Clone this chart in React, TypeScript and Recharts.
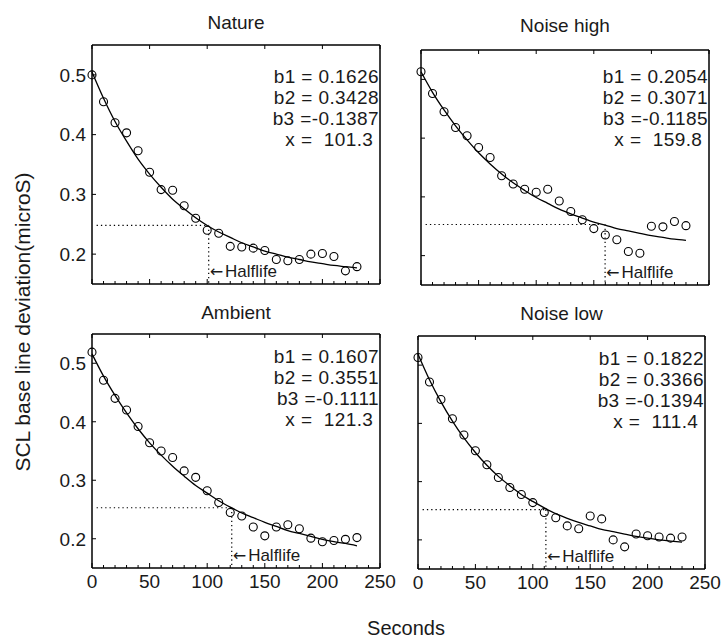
import React from 'react';
import { ComposedChart, Line, Scatter, XAxis, YAxis, ReferenceLine, ReferenceDot } from 'recharts';

// sample times (s)
const seconds = [0, 10, 20, 30, 40, 50, 60, 70, 80, 90, 100, 110, 120, 130, 140, 150, 160, 170, 180, 190, 200, 210, 220, 230];

const natureObs = [0.500, 0.455, 0.420, 0.403, 0.373, 0.337, 0.308, 0.307, 0.281, 0.260, 0.240, 0.235, 0.213, 0.212, 0.210, 0.206, 0.191, 0.189, 0.191, 0.200, 0.201, 0.196, 0.172, 0.179];
const natureFit = [0.505, 0.461, 0.422, 0.389, 0.359, 0.334, 0.312, 0.292, 0.276, 0.261, 0.248, 0.237, 0.228, 0.219, 0.212, 0.205, 0.200, 0.195, 0.191, 0.187, 0.184, 0.181, 0.179, 0.177];

const noiseHighObs = [0.513, 0.476, 0.445, 0.418, 0.404, 0.384, 0.367, 0.336, 0.322, 0.313, 0.308, 0.313, 0.293, 0.275, 0.261, 0.246, 0.235, 0.227, 0.207, 0.204, 0.250, 0.249, 0.258, 0.251];
const noiseHighFit = [0.513, 0.478, 0.448, 0.421, 0.397, 0.375, 0.356, 0.339, 0.324, 0.311, 0.299, 0.289, 0.279, 0.271, 0.264, 0.257, 0.252, 0.246, 0.242, 0.238, 0.234, 0.231, 0.228, 0.226];

const ambientObs = [0.519, 0.471, 0.440, 0.420, 0.392, 0.364, 0.350, 0.339, 0.316, 0.305, 0.282, 0.262, 0.245, 0.239, 0.220, 0.205, 0.220, 0.224, 0.217, 0.201, 0.195, 0.197, 0.199, 0.202];
const ambientFit = [0.516, 0.478, 0.445, 0.415, 0.388, 0.364, 0.343, 0.324, 0.307, 0.291, 0.278, 0.265, 0.254, 0.244, 0.236, 0.228, 0.221, 0.214, 0.209, 0.204, 0.199, 0.195, 0.192, 0.188];

const noiseLowObs = [0.513, 0.471, 0.441, 0.408, 0.380, 0.353, 0.329, 0.307, 0.290, 0.278, 0.264, 0.247, 0.238, 0.224, 0.219, 0.241, 0.236, 0.200, 0.188, 0.210, 0.207, 0.205, 0.203, 0.205];
const noiseLowFit = [0.519, 0.475, 0.437, 0.404, 0.375, 0.350, 0.328, 0.309, 0.293, 0.278, 0.266, 0.255, 0.245, 0.237, 0.230, 0.224, 0.218, 0.214, 0.210, 0.206, 0.203, 0.200, 0.198, 0.196];

// fit parameters as printed
const natureParams = ['b1 = 0.1626', 'b2 = 0.3428', 'b3 =-0.1387', 'x =  101.3 '];
const noiseHighParams = ['b1 = 0.2054', 'b2 = 0.3071', 'b3 =-0.1185', 'x =  159.8 '];
const ambientParams = ['b1 = 0.1607', 'b2 = 0.3551', 'b3 =-0.1111', 'x =  121.3 '];
const noiseLowParams = ['b1 = 0.1822', 'b2 = 0.3366', 'b3 =-0.1394', 'x =  111.4 '];

// halflife point [seconds, value]
const natureHalf = [101.3, 0.248];
const noiseHighHalf = [159.8, 0.253];
const ambientHalf = [121.3, 0.253];
const noiseLowHalf = [111.4, 0.252];

const xMinorTicks = [0, 10, 20, 30, 40, 50, 60, 70, 80, 90, 100, 110, 120, 130, 140, 150, 160, 170, 180, 190, 200, 210, 220, 230, 240, 250];
const xMajorTicks = [0, 50, 100, 150, 200, 250];
const yMajorTicks = [0.2, 0.3, 0.4, 0.5];
const yMinorTicks = [0.16, 0.18, 0.2, 0.22, 0.24, 0.26, 0.28, 0.3, 0.32, 0.34, 0.36, 0.38, 0.4, 0.42, 0.44, 0.46, 0.48, 0.5, 0.52, 0.54];

const FONT = '"Liberation Sans", Arial, Helvetica, sans-serif';
const INK = '#1a1a1a';
const W = 723;
const H = 639;

const BottomTick = (props: any) => {
  const { x, y, payload, showLabel } = props;
  const major = xMajorTicks.includes(payload.value);
  return (
    <g>
      <line x1={x} x2={x} y1={y} y2={y - (major ? 5 : 3)} stroke="#000" strokeWidth={1} />
      {showLabel && major && (
        <text x={x} y={y + 20} textAnchor="middle" fontFamily={FONT} fontSize={19} fill={INK}>
          {payload.value}
        </text>
      )}
    </g>
  );
};

const TopTick = (props: any) => {
  const { x, y, payload } = props;
  if (!xMajorTicks.includes(payload.value)) return <g />;
  return <line x1={x} x2={x} y1={y} y2={y + 4} stroke="#000" strokeWidth={1} />;
};

const LeftTick = (props: any) => {
  const { x, y, payload, showLabel } = props;
  return (
    <g>
      <line x1={x} x2={x + 4} y1={y} y2={y} stroke="#000" strokeWidth={1} />
      {showLabel && (
        <text x={x - 6} y={y} dy="0.36em" textAnchor="end" fontFamily={FONT} fontSize={19} fill={INK}>
          {payload.value.toFixed(1)}
        </text>
      )}
    </g>
  );
};

const RightTick = (props: any) => {
  const { x, y, payload } = props;
  const major = yMajorTicks.includes(payload.value);
  return <line x1={x} x2={x - (major ? 4 : 2)} y1={y} y2={y} stroke="#000" strokeWidth={1} />;
};

const HalfLabel = (props: any) => {
  const vb = props.viewBox || {};
  return (
    <text x={vb.x + 1} y={vb.y - 7} fontFamily={FONT} fontSize={17} fill={INK}>
      <tspan fontFamily='"DejaVu Sans"' fontSize={16}>←</tspan>
      <tspan dx={2}>Halflife</tspan>
    </text>
  );
};

type Panel = {
  title: string;
  obs: number[];
  fit: number[];
  params: string[];
  half: number[];
  box: { l: number; r: number; t: number; b: number };
  titleY: number;
  textY: number;
  showX: boolean;
  showY: boolean;
};

const panels: Panel[] = [
  { title: 'Nature', obs: natureObs, fit: natureFit, params: natureParams, half: natureHalf, box: { l: 92, r: 380, t: 45, b: 284 }, titleY: 22, textY: 76, showX: false, showY: true },
  { title: 'Noise high', obs: noiseHighObs, fit: noiseHighFit, params: noiseHighParams, half: noiseHighHalf, box: { l: 421, r: 709, t: 50, b: 285 }, titleY: 25, textY: 76, showX: false, showY: false },
  { title: 'Ambient', obs: ambientObs, fit: ambientFit, params: ambientParams, half: ambientHalf, box: { l: 92, r: 380, t: 334, b: 568 }, titleY: 312, textY: 356, showX: true, showY: true },
  { title: 'Noise low', obs: noiseLowObs, fit: noiseLowFit, params: noiseLowParams, half: noiseLowHalf, box: { l: 418, r: 705, t: 336, b: 569 }, titleY: 313, textY: 358, showX: true, showY: false },
];

const PanelChart = ({ p }: { p: Panel }) => {
  const rows = seconds.map((t, i) => ({ t, obs: p.obs[i], fit: p.fit[i] }));
  const axisLine = { stroke: '#000', strokeWidth: 1.5 };
  return (
    <div style={{ position: 'absolute', left: 0, top: 0 }}>
      <ComposedChart
        width={W}
        height={H}
        data={rows}
        margin={{ left: p.box.l - 1, right: W - p.box.r - 1, top: p.box.t - 1, bottom: H - p.box.b - 1 }}
      >
        <XAxis
          dataKey="t"
          type="number"
          domain={[0, 250]}
          ticks={xMinorTicks}
          interval={0}
          height={1}
          tickSize={0}
          tickMargin={0}
          tickLine={false}
          axisLine={axisLine}
          tick={(props: any) => <BottomTick {...props} showLabel={p.showX} />}
        />
        <XAxis
          xAxisId="top"
          orientation="top"
          dataKey="t"
          type="number"
          domain={[0, 250]}
          ticks={xMinorTicks}
          interval={0}
          height={1}
          tickSize={0}
          tickMargin={0}
          tickLine={false}
          axisLine={axisLine}
          tick={(props: any) => <TopTick {...props} />}
        />
        <YAxis
          type="number"
          domain={[0.15, 0.55]}
          ticks={yMajorTicks}
          interval={0}
          width={1}
          tickSize={0}
          tickMargin={0}
          tickLine={false}
          axisLine={axisLine}
          tick={(props: any) => <LeftTick {...props} showLabel={p.showY} />}
        />
        <YAxis
          yAxisId="right"
          orientation="right"
          type="number"
          domain={[0.15, 0.55]}
          ticks={yMinorTicks}
          interval={0}
          width={1}
          tickSize={0}
          tickMargin={0}
          tickLine={false}
          axisLine={axisLine}
          tick={(props: any) => <RightTick {...props} />}
        />
        <ReferenceLine
          segment={[{ x: 4, y: p.half[1] }, { x: p.half[0], y: p.half[1] }]}
          stroke="#000"
          strokeWidth={1.2}
          strokeDasharray="1.3 3"
        />
        <ReferenceLine
          segment={[{ x: p.half[0], y: p.half[1] }, { x: p.half[0], y: 0.15 }]}
          stroke="#000"
          strokeWidth={1.2}
          strokeDasharray="1.3 3"
        />
        <ReferenceDot x={p.half[0]} y={0.15} r={0} fill="none" stroke="none" label={<HalfLabel />} />
        <Line
          dataKey="fit"
          type="monotone"
          stroke="#000"
          strokeWidth={1.3}
          dot={false}
          activeDot={false}
          isAnimationActive={false}
        />
        <Scatter
          dataKey="obs"
          isAnimationActive={false}
          shape={(s: any) => <circle cx={s.cx} cy={s.cy} r={4} fill="none" stroke="#000" strokeWidth={1.1} />}
        />
      </ComposedChart>
    </div>
  );
};

const textStyle: React.CSSProperties = {
  position: 'absolute',
  fontFamily: FONT,
  color: INK,
  whiteSpace: 'pre',
  lineHeight: 1,
};

export default function App() {
  return (
    <div style={{ position: 'absolute', left: 0, top: 0, width: W, height: H, background: '#fff', overflow: 'hidden' }}>
      {panels.map((p) => (
        <PanelChart key={p.title} p={p} />
      ))}
      {panels.map((p) => (
        <div
          key={p.title + '-title'}
          style={{ ...textStyle, fontSize: 19, left: (p.box.l + p.box.r) / 2, top: p.titleY, transform: 'translate(-50%, -50%)' }}
        >
          {p.title}
        </div>
      ))}
      {panels.map((p) =>
        p.params.map((line, i) => (
          <div
            key={p.title + '-param-' + i}
            style={{ ...textStyle, fontSize: 19, letterSpacing: 0.4, right: W - p.box.r + 1, top: p.textY + i * 21 - 9.5, textAlign: 'right' }}
          >
            {line}
          </div>
        ))
      )}
      <div style={{ ...textStyle, fontSize: 21, left: 22, top: 322, transform: 'translate(-50%, -50%) rotate(-90deg)' }}>
        SCL base line deviation(microS)
      </div>
      <div style={{ ...textStyle, fontSize: 20, left: 406, top: 628, transform: 'translate(-50%, -50%)' }}>
        Seconds
      </div>
    </div>
  );
}
